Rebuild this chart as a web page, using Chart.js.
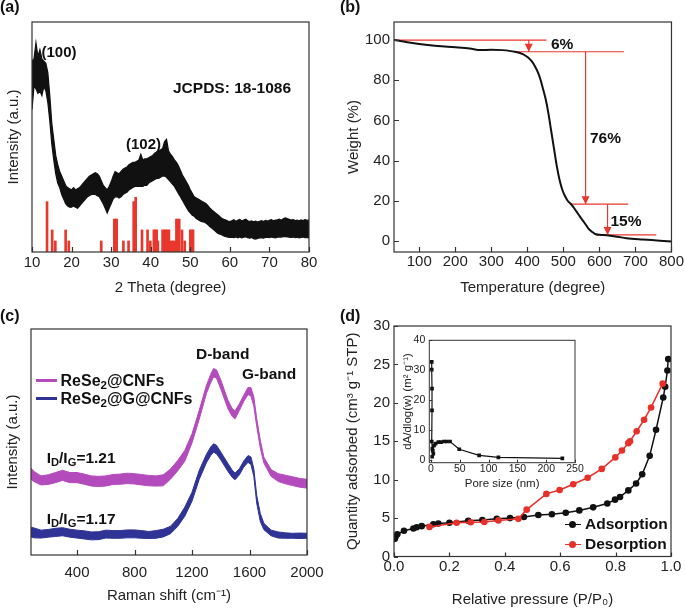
<!DOCTYPE html>
<html><head><meta charset="utf-8">
<script src="https://cdn.jsdelivr.net/npm/chart.js@4/dist/chart.umd.min.js"></script>
<style>
html,body{margin:0;padding:0;background:#fff;}
#fig{position:relative;width:685px;height:609px;overflow:hidden;background:#fff;font-family:"Liberation Sans",Arial,sans-serif;color:#111;}
canvas{position:absolute;}
.t{position:absolute;font-weight:bold;white-space:nowrap;line-height:1;}
.t sub{font-size:72%;vertical-align:baseline;position:relative;top:0.28em;}
.ln{position:absolute;}
.dot{position:absolute;border-radius:50%;}
</style></head><body>
<div id="fig">
<canvas id="ca" width="340" height="300" style="left:0;top:0"></canvas>
<canvas id="cb" width="345" height="300" style="left:340px;top:0"></canvas>
<canvas id="cc" width="340" height="309" style="left:0;top:300px"></canvas>
<canvas id="cd" width="345" height="309" style="left:340px;top:300px"></canvas>
<canvas id="ci" width="192" height="161" style="left:398px;top:330px"></canvas>

<div class="t" style="left:0;top:-1.5px;font-size:16px">(a)</div>
<div class="t" style="left:41.5px;top:43.7px;font-size:15px">(100)</div>
<div class="t" style="left:173px;top:80px;font-size:15.5px">JCPDS: 18-1086</div>
<div class="t" style="left:126px;top:136.2px;font-size:15px">(102)</div>

<div class="t" style="left:340px;top:-1.5px;font-size:16px">(b)</div>
<div class="t" style="left:551px;top:36.3px;font-size:15.5px">6%</div>
<div class="t" style="left:590px;top:129.7px;font-size:15.5px">76%</div>
<div class="t" style="left:610.5px;top:213px;font-size:15.5px">15%</div>

<div class="t" style="left:0;top:308px;font-size:16px">(c)</div>
<div class="t" style="left:196px;top:346.3px;font-size:15.5px">D-band</div>
<div class="t" style="left:242px;top:366.3px;font-size:15.5px">G-band</div>
<div class="ln" style="left:36px;top:379px;width:21px;height:3px;background:#b44bbd"></div>
<div class="t" style="left:60.5px;top:373px;font-size:16px">ReSe<sub>2</sub>@CNFs</div>
<div class="ln" style="left:36px;top:397px;width:21px;height:3px;background:#2f3396"></div>
<div class="t" style="left:60.5px;top:391px;font-size:16px">ReSe<sub>2</sub>@G@CNFs</div>
<div class="t" style="left:46.7px;top:449.7px;font-size:15.5px">I<sub>D</sub>/I<sub>G</sub>=1.21</div>
<div class="t" style="left:46.7px;top:511.3px;font-size:15.5px">I<sub>D</sub>/I<sub>G</sub>=1.17</div>

<div class="t" style="left:340px;top:308px;font-size:16px">(d)</div>
<div class="ln" style="left:565px;top:523.5px;width:16px;height:1.6px;background:#111"></div>
<div class="dot" style="left:569px;top:520.8px;width:7px;height:7px;background:#111"></div>
<div class="t" style="left:585px;top:516.3px;font-size:15.5px">Adsorption</div>
<div class="ln" style="left:565px;top:543.5px;width:16px;height:1.6px;background:#e8302a"></div>
<div class="dot" style="left:569px;top:540.8px;width:7px;height:7px;background:#e8302a"></div>
<div class="t" style="left:585px;top:536.3px;font-size:15.5px">Desorption</div>
</div>
<script>
// ---------- (a) XRD ----------
const xrdAngle = [10,10.5,11,11.5,12,12.5,13,13.5,14,14.5,15,15.5,16,16.5,17,17.5,18,18.5,19,19.5,20,20.5,21,21.5,22,22.5,23,23.5,24,24.5,25,25.5,26,26.5,27,27.5,28,28.5,29,29.5,30,30.5,31,31.5,32,32.5,33,33.5,34,34.5,35,35.5,36,36.5,37,37.5,38,38.5,39,39.5,40,40.5,41,41.5,42,42.5,43,43.5,44,44.5,45,45.5,46,46.5,47,47.5,48,48.5,49,49.5,50,50.5,51,51.5,52,52.5,53,53.5,54,54.5,55,55.5,56,56.5,57,57.5,58,58.5,59,59.5,60,60.5,61,61.5,62,62.5,63,63.5,64,64.5,65,65.5,66,66.5,67,67.5,68,68.5,69,69.5,70,70.5,71,71.5,72,72.5,73,73.5,74,74.5,75,75.5,76,76.5,77,77.5,78,78.5,79,79.5,80];
const xrdUpper = [83,84,91,85,88,84,83,82,78,68,56,49,42,38,35,33,31,29,28,27.5,27,28,27,27.5,28,29,30,31,32,33,33.5,34,34.5,34,33,31,29,28,27,28.5,30.5,33,35,34.5,34,35,36,36.5,37,38,38.5,39,39,39.5,40,42.5,40,40.5,40.5,41,41.5,42,43,43.5,44,44.5,45,48,49,44,42.5,41.5,40,39,37.5,35.5,33.5,32,30.5,29,27,25.5,24,23.5,23,22.5,22,21.5,21,20,19,18.2,17.5,16.8,16.1,15.3,14.6,14.2,13.9,13.5,13.2,13.6,14.0,13.4,13.8,14.2,13.5,13.9,14.3,13.6,13.2,13.5,13.1,13.4,13.0,13.3,13.6,13.2,13.7,13.4,13.8,14.1,13.6,13.9,14.0,14.3,13.8,14.4,14.8,14.5,14.2,13.9,14.1,13.7,13.9,13.6,14.0,13.7,14.1,13.8,13.9];
const xrdLower = [62,72,71,69,70,68,72,70,65,57,47,40,34,30,28,25,23,21,20,19.5,19.5,20,19.5,19,20,21,22,23,24,24.5,25,25,25,24.5,24,22.5,21,19,17,19,21,23,24,24,23.5,24,25,25.5,26,27,27.5,28,28.5,28.5,28.5,28.5,28.5,29,29,30,30.5,31,31.5,32,32,32.5,33,33,32.5,31.5,30.5,29.5,28.5,27,25.5,24,22.5,21,19.5,18,17,16,15.5,14.5,14,13.5,13.2,13,12.5,11.8,11,10.3,9.6,8.8,8.1,7.8,7.4,7,6.7,6.5,6.4,6.5,6.3,6.6,6.2,6.5,6.1,6.4,6.6,6.2,6.0,6.3,5.8,5.6,5.9,6.1,6.2,6.0,6.3,6.4,6.2,6.5,6.3,6.1,6.4,6.6,6.5,6.7,6.8,6.6,6.4,6.3,6.5,6.2,6.4,6.1,6.3,6.5,6.2,6.3,6.1];
const jcpdsAngle = [13.8,15.1,15.9,18.5,19.3,27.5,30.8,31.1,31.4,33.1,34.4,35.7,36.2,37.8,39.2,39.9,40.8,41.2,41.5,41.8,43.0,43.4,43.8,44.2,44.6,45.2,45.6,46.1,46.5,46.8,47.2,47.9,48.6,50.0,50.4,50.7];
const jcpdsIntensity = [21.9,9.6,4.8,9.6,4.8,4.8,14.3,14.3,14.3,4.8,4.8,21.9,23.8,9.6,9.6,4.8,9.6,9.6,9.6,4.8,9.6,9.6,9.6,9.6,9.6,4.8,4.8,4.8,14.3,14.3,14.3,9.6,4.8,9.6,9.6,9.6];
const xrdTicks = [10,20,30,40,50,60,70,80];

// ---------- (b) TGA ----------
const tgaTemp = [30,60,100,150,200,240,270,300,330,365,389,402,412,421,430,437,444,451,458,466,474,482,490,497,504,512,523,535,546,558,569,580,590,605,620,650,675,720,768,800];
const tgaWeight = [100,99.2,98,97,96.4,95.8,95,95.2,95,94.2,92.9,91.3,89.5,87,83.7,80,75.4,70.5,64,55,46,37,30,25.5,22.5,20,18,15,12.1,9.2,6.3,4.5,3.3,3.0,2.85,2.1,1.35,0.7,0.15,-0.3];
const stepLevels = [100, 94.2, 18.3, 3.0];
const stepLineFrom = [30, 365, 518, 592];
const stepLineTo = [453, 668, 680, 758];
const arrowTemp = [404, 561.6, 622.6];
const tempTicks = [100,200,300,400,500,600,700,800];
const weightTicks = [0,20,40,60,80,100];

// ---------- (c) Raman ----------
const ramanShift = [80,100,150,200,250,300,350,400,450,500,550,600,650,700,750,800,850,900,950,1000,1050,1100,1150,1200,1250,1300,1330,1350,1370,1400,1450,1480,1500,1530,1560,1590,1610,1630,1650,1675,1700,1750,1800,1850,1900,1950,2000];
const cnfUpper = [38.5,37,35,35.5,36.5,37.5,36.5,36.5,35.8,35,34.8,35,35.6,35.8,36.2,36,35.6,35.2,35,35.5,38,41.8,46.3,53.6,64,75,80,82.5,82,77.5,68.5,64.8,63.8,67,70.7,74.2,74,70,60.5,50.8,43.3,37.8,36,35.3,34.6,33.9,33.5];
const cnfLower = [33.5,32.5,31,31.2,32,33,32,32,31.3,30.5,30.3,30.5,31.2,31.3,31.6,31.4,31,30.6,30.5,30.6,33.5,37.2,41.5,49.6,60,71.4,76.2,78.8,78.3,73.5,64.7,61.3,60.3,64,68,71,70.3,65.8,57,47.4,40.7,34.8,32.5,31.5,30.7,30,29.6];
const gcnfUpper = [12.3,12,11,11.3,11.8,12.1,11.4,11,10.7,10.2,10.3,11,10.8,10.8,11.1,11.1,10.8,10.4,10.8,11.4,12.7,16.1,21.2,27.8,37.4,44.5,47.8,49.2,48.6,45.6,40.5,37.5,36.3,38.2,41.6,44,43.4,38.2,26.5,18.4,14,11,10.2,9.8,9.6,9.7,9.6];
const gcnfLower = [8,7.6,7.5,7.9,8.2,8.5,7.9,7.5,7.1,6.7,6.8,7.5,7.4,7.4,7.6,7.6,7.4,7.3,7.4,8,9.4,12.6,17.2,23.8,33.4,40.8,44,45.5,44.8,42.1,37,34.3,33.3,35.5,38.9,41,40,34.8,23,14.8,11.2,8.5,7.5,7.4,7.4,7.3,7.4];
const ramanTicks = [400,800,1200,1600,2000];

// ---------- (d) N2 isotherm ----------
const adsP = [0.003,0.006,0.012,0.036,0.07,0.082,0.10,0.142,0.16,0.20,0.268,0.319,0.371,0.419,0.469,0.521,0.570,0.620,0.669,0.719,0.770,0.798,0.816,0.846,0.874,0.896,0.923,0.946,0.972,0.979,0.987,0.990];
const adsQ = [2.3,2.6,2.9,3.35,3.65,3.8,3.95,4.2,4.3,4.4,4.65,4.75,4.9,5.0,5.15,5.4,5.5,5.7,6.0,6.4,6.9,7.4,7.75,8.6,9.5,10.7,13.1,16.5,20.7,22.1,24.2,25.7];
const desP = [0.128,0.226,0.277,0.326,0.377,0.449,0.479,0.550,0.598,0.647,0.699,0.750,0.799,0.823,0.846,0.852,0.876,0.903,0.928,0.970];
const desQ = [3.85,4.4,4.45,4.5,4.7,4.9,6.1,8.15,8.65,9.4,10.25,11.4,12.9,13.8,14.75,15.0,16.3,17.8,19.4,22.5];
const pressureTicks = [0,0.2,0.4,0.6,0.8,1.0];
const quantityTicks = [0,5,10,15,20,25,30];
// inset: pore size distribution
const poreSize = [1.2,1.2,1.7,1.7,1.2,2.3,4,2,3,5.2,8,12.7,17.3,22.5,27.2,33,49,83.5,117,228];
const poreArea = [32.8,30.2,23.8,16.5,6.1,3.7,2.0,1.0,3.0,4.8,5.4,5.9,5.9,6.1,6.1,6.1,3.5,1.45,0.8,0.45];
const poreTicks = [0,50,100,150,200,250];
const areaTicks = [0,10,20,30,40];

// ---------- helpers ----------
Chart.defaults.font.family = '"Liberation Sans", Arial, sans-serif';
Chart.defaults.color = '#222';
const pts = (xs, ys) => xs.map((x, i) => ({x, y: ys[i]}));

const framePlugin = {
  id: 'frame',
  afterDatasetsDraw(chart, args, o) {
    const {ctx, chartArea: a, scales} = chart;
    ctx.save();
    ctx.strokeStyle = '#333';
    ctx.lineWidth = o.lw || 1.2;
    ctx.beginPath();
    if (o.x) scales.x.ticks.forEach(t => {
      const p = Math.round(scales.x.getPixelForValue(t.value)) + 0.5;
      ctx.moveTo(p, a.bottom); ctx.lineTo(p, a.bottom - o.x);
    });
    if (o.y) scales.y.ticks.forEach(t => {
      const p = Math.round(scales.y.getPixelForValue(t.value)) + 0.5;
      ctx.moveTo(a.left, p); ctx.lineTo(a.left + o.y, p);
    });
    ctx.stroke();
    ctx.strokeRect(a.left, a.top, a.right - a.left, a.bottom - a.top);
    ctx.restore();
  }
};
const arrowPlugin = {
  id: 'arrowHeads',
  afterDatasetsDraw(chart) {
    const ctx = chart.ctx;
    chart.data.datasets.forEach((ds, i) => {
      if (!ds.arrow) return;
      const el = chart.getDatasetMeta(i).data;
      const p1 = el[el.length - 2], p2 = el[el.length - 1];
      const ang = Math.atan2(p2.y - p1.y, p2.x - p1.x);
      const L = 8, W = 4;
      ctx.save();
      ctx.fillStyle = ds.borderColor;
      ctx.beginPath();
      ctx.moveTo(p2.x, p2.y);
      ctx.lineTo(p2.x - L * Math.cos(ang) + W * Math.sin(ang), p2.y - L * Math.sin(ang) - W * Math.cos(ang));
      ctx.lineTo(p2.x - L * Math.cos(ang) - W * Math.sin(ang), p2.y - L * Math.sin(ang) + W * Math.cos(ang));
      ctx.closePath();
      ctx.fill();
      ctx.restore();
    });
  }
};
const setTicks = arr => (s => { s.ticks = (arr || []).map(v => ({value: v})); });

function xAxis(o) {
  return {
    type: 'linear', position: 'bottom', min: o.min, max: o.max, offset: false,
    grid: {display: false, drawTicks: false}, border: {display: false},
    afterBuildTicks: setTicks(o.ticks),
    ticks: {display: o.labels !== false, autoSkip: false, maxRotation: 0,
      padding: o.pad || 0, font: {size: o.fs || 15}, color: '#222', callback: o.fmt || (v => v)},
    title: {display: true, text: o.title, font: {size: o.tfs || 15}, color: '#222', padding: {top: 0, bottom: o.tpad || 0}},
    afterFit: s => { s.height = o.h; }
  };
}
function yAxis(o) {
  return {
    type: 'linear', position: 'left', min: o.min, max: o.max,
    grid: {display: false, drawTicks: false}, border: {display: false},
    afterBuildTicks: setTicks(o.ticks),
    ticks: {display: o.labels !== false, autoSkip: false,
      padding: o.pad || 0, font: {size: o.fs || 15}, color: '#222'},
    title: {display: true, text: o.title, font: {size: o.tfs || 15}, color: '#222', padding: {top: o.tpad || 0, bottom: 0}},
    afterFit: s => { s.width = o.w; }
  };
}
function baseOpts(pad, frame) {
  return {
    responsive: false, animation: false, devicePixelRatio: 1, events: [],
    layout: {padding: pad},
    plugins: {legend: {display: false}, tooltip: {enabled: false}, frame: frame},
    elements: {line: {tension: 0}}
  };
}

// ---------- (a) ----------
new Chart(document.getElementById('ca'), {
  type: 'line',
  data: {datasets: [
    {data: pts(xrdAngle, xrdUpper), borderColor: '#111', backgroundColor: '#111', borderWidth: 1.2, pointRadius: 0, fill: '+1'},
    {data: pts(xrdAngle, xrdLower), borderColor: '#111', borderWidth: 1.2, pointRadius: 0, fill: false},
    {type: 'bar', data: pts(jcpdsAngle, jcpdsIntensity), backgroundColor: '#e8372c', barThickness: 2, borderWidth: 0}
  ]},
  options: Object.assign(baseOpts({left: 0, top: 22, right: 31, bottom: 0}, {x: 5}), {
    scales: {
      x: xAxis({min: 10, max: 80, ticks: xrdTicks, h: 48, pad: 2, tpad: 3.5, title: '2 Theta (degree)'}),
      y: yAxis({min: 0, max: 100, labels: false, w: 32, tpad: 5, title: 'Intensity (a.u.)'})
    }
  }),
  plugins: [framePlugin]
});

// ---------- (b) ----------
const tgaSets = [{data: pts(tgaTemp, tgaWeight), borderColor: '#111', borderWidth: 2, pointRadius: 0, cubicInterpolationMode: 'monotone'}];
stepLevels.forEach((lv, i) => {
  tgaSets.push({data: [{x: stepLineFrom[i], y: lv}, {x: stepLineTo[i], y: lv}], borderColor: '#e8372c', borderWidth: 1.2, pointRadius: 0});
});
arrowTemp.forEach((t, i) => {
  tgaSets.push({data: [{x: t, y: stepLevels[i]}, {x: t, y: stepLevels[i + 1]}], borderColor: '#e8372c', borderWidth: 1.2, pointRadius: 0, arrow: true});
});
new Chart(document.getElementById('cb'), {
  type: 'line',
  data: {datasets: tgaSets},
  options: Object.assign(baseOpts({left: 0, top: 22, right: 13, bottom: 0}, {x: 5, y: 5}), {
    scales: {
      x: xAxis({min: 30, max: 800, ticks: tempTicks, h: 48, pad: 1, tpad: 3.5, title: 'Temperature (degree)'}),
      y: yAxis({min: -5.5, max: 109, ticks: weightTicks, w: 54, pad: 4, tpad: 5.2, title: 'Weight (%)'})
    }
  }),
  plugins: [framePlugin, arrowPlugin]
});

// ---------- (c) ----------
new Chart(document.getElementById('cc'), {
  type: 'line',
  data: {datasets: [
    {data: pts(ramanShift, cnfUpper), borderColor: '#b44bbd', backgroundColor: '#b44bbd', borderWidth: 1, pointRadius: 0, fill: '+1'},
    {data: pts(ramanShift, cnfLower), borderColor: '#b44bbd', borderWidth: 1, pointRadius: 0, fill: false},
    {data: pts(ramanShift, gcnfUpper), borderColor: '#2f3396', backgroundColor: '#2f3396', borderWidth: 1, pointRadius: 0, fill: '+1'},
    {data: pts(ramanShift, gcnfLower), borderColor: '#2f3396', borderWidth: 1, pointRadius: 0, fill: false}
  ]},
  options: Object.assign(baseOpts({left: 0, top: 29, right: 33, bottom: 0}, {x: 5}), {
    scales: {
      x: xAxis({min: 80, max: 2000, ticks: ramanTicks, h: 54, pad: 9, tpad: 4.2, title: 'Raman shift (cm\u207B\u00B9)'}),
      y: yAxis({min: 0, max: 100, labels: false, w: 31, tpad: 3.5, title: 'Intensity (a.u.)'})
    }
  }),
  plugins: [framePlugin]
});

// ---------- (d) ----------
new Chart(document.getElementById('cd'), {
  type: 'line',
  data: {datasets: [
    {label: 'Adsorption', data: pts(adsP, adsQ), borderColor: '#111', backgroundColor: '#111', borderWidth: 1.5, pointRadius: 3.3, pointBorderWidth: 0, order: 1},
    {label: 'Desorption', data: pts(desP, desQ), borderColor: '#e8302a', backgroundColor: '#e8302a', borderWidth: 1.5, pointRadius: 3.3, pointBorderWidth: 0, order: 0}
  ]},
  options: Object.assign(baseOpts({left: 0, top: 26, right: 14, bottom: 0}, {x: 4, y: 4}), {
    scales: {
      x: xAxis({min: 0, max: 1, ticks: pressureTicks, h: 52.5, pad: 1, tpad: 0, fmt: v => v.toFixed(1), title: 'Relative pressure (P/P\u2080)'}),
      y: yAxis({min: 0, max: 30, ticks: quantityTicks, w: 54, pad: 4, tpad: 3.8, title: 'Quantity adsorbed (cm\u00B3 g\u207B\u00B9 STP)'})
    }
  }),
  plugins: [framePlugin]
});

// ---------- inset ----------
new Chart(document.getElementById('ci'), {
  type: 'line',
  data: {datasets: [
    {data: pts(poreSize, poreArea), borderColor: '#111', backgroundColor: '#111', borderWidth: 1.2, pointRadius: 2.6, pointStyle: 'rect', pointBorderWidth: 0}
  ]},
  options: Object.assign(baseOpts({left: 0, top: 10, right: 15, bottom: 0}, {x: 3, y: 3, lw: 1}), {
    scales: {
      x: xAxis({min: -3, max: 250, ticks: poreTicks, h: 28.3, pad: 0, fs: 10.5, tfs: 11.5, tpad: 0, title: 'Pore size (nm)'}),
      y: yAxis({min: -1, max: 40, ticks: areaTicks, w: 31.3, pad: 4, fs: 10.5, tfs: 11.5, tpad: 2.6, title: 'dA/dlog(w) (m\u00B2 g\u207B\u00B9)'})
    }
  }),
  plugins: [framePlugin]
});
</script>
</body></html>
